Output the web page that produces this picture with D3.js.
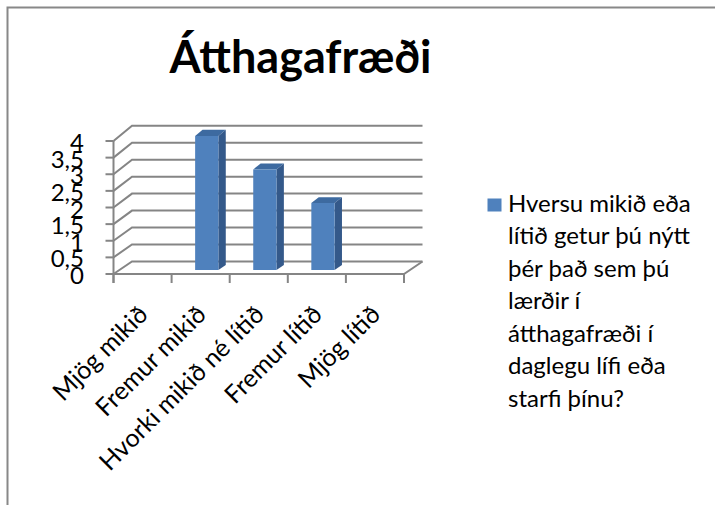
<!DOCTYPE html>
<html>
<head>
<meta charset="utf-8">
<script src="https://cdn.jsdelivr.net/npm/d3@7/dist/d3.min.js"></script>
<style>
  body { margin: 0; background: #fff; }
  text { font-family: Lato, "Open Sans", sans-serif; fill: #000; }
</style>
</head>
<body>
<div class="chart"></div>
<script>
// chart data
var title = "Átthagafræði";
var categories = ["Mjög mikið", "Fremur mikið", "Hvorki mikið né lítið", "Fremur lítið", "Mjög lítið"];
var values = [0, 4, 3, 2, 0];
var yTicks = [0, 0.5, 1, 1.5, 2, 2.5, 3, 3.5, 4];
var legendLines = ["Hversu mikið eða", "lítið getur þú nýtt", "þér það sem þú", "lærðir í", "átthagafræði í", "daglegu lífi eða", "starfi þínu?"];

var svgWidth = 715;
var svgHeight = 505;

// 3d box: front plane and back plane
var depthX = 18.5;
var barDepth = [0.33, 0.73];

var svg = d3.select(".chart")
  .append("svg")
  .attr("width", svgWidth)
  .attr("height", svgHeight);

svg.append("rect")
  .attr("x", 7.5)
  .attr("y", 7.5)
  .attr("width", 730)
  .attr("height", 520)
  .attr("fill", "#fff")
  .attr("stroke", "#888")
  .attr("stroke-width", 2);

// scales
var xScale = d3.scaleBand()
  .domain(categories)
  .range([113.5, 404]);

var yFront = d3.scaleLinear()
  .domain([0, 4])
  .range([274, 141]);

var yBack = d3.scaleLinear()
  .domain([0, 4])
  .range([261.5, 125.7]);

var fmt = d3.formatLocale({decimal: ",", thousands: ".", grouping: [3], currency: ["", ""]}).format("~g");

// project a point given front x, value and depth (0 = front, 1 = back)
function proj(x, v, f) {
  var yf = yFront(v), yb = yBack(v);
  return [x + f * depthX, yf + f * (yb - yf)];
}

var grid = svg.append("g")
  .attr("fill", "none")
  .attr("stroke", "#858585")
  .attr("stroke-width", 2);

// side wall + back wall gridlines
grid.selectAll("path.gl")
  .data(yTicks)
  .enter()
  .append("path")
  .attr("class", "gl")
  .attr("d", function(v) {
    var a = proj(xScale.range()[0], v, 0);
    var b = proj(xScale.range()[0], v, 1);
    var c = proj(xScale.range()[1], v, 1);
    return "M" + a + "L" + b + "L" + c;
  });

// floor front edge and right edge
var x0 = xScale.range()[0], x1 = xScale.range()[1];
grid.append("path")
  .attr("d", "M" + proj(x0, 0, 0) + "L" + proj(x1, 0, 0) + "L" + proj(x1, 0, 1));

// vertical axis line and ticks
grid.append("line")
  .attr("x1", x0).attr("x2", x0)
  .attr("y1", yFront(4)).attr("y2", yFront(0) + 9);

grid.selectAll("line.yt")
  .data(yTicks)
  .enter()
  .append("line")
  .attr("class", "yt")
  .attr("x1", x0 - 8).attr("x2", x0)
  .attr("y1", d => yFront(d)).attr("y2", d => yFront(d));

// category ticks
var boundaries = categories.map(d => xScale(d)).concat([x1]);
grid.selectAll("line.xt")
  .data(boundaries)
  .enter()
  .append("line")
  .attr("class", "xt")
  .attr("x1", d => d).attr("x2", d => d)
  .attr("y1", yFront(0)).attr("y2", yFront(0) + 9);

// y labels
svg.selectAll("text.yl")
  .data(yTicks)
  .enter()
  .append("text")
  .attr("class", "yl")
  .attr("x", 84)
  .attr("y", d => yFront(d))
  .attr("dy", "0.42em")
  .attr("text-anchor", "end")
  .style("font-size", "24px")
  .text(d => fmt(d));

// bars
var bw = xScale.bandwidth();
var bars = svg.selectAll("g.bar")
  .data(categories.map((c, i) => ({cat: c, v: values[i]})).filter(d => d.v > 0))
  .enter()
  .append("g")
  .attr("class", "bar");

function poly(pts) { return "M" + pts.join("L") + "Z"; }

bars.append("path")
  .attr("fill", "#3d6aa0")
  .attr("d", function(d) {
    var a = xScale(d.cat) + bw * 0.3, b = a + bw * 0.4;
    return poly([proj(a, d.v, barDepth[0]), proj(b, d.v, barDepth[0]), proj(b, d.v, barDepth[1]), proj(a, d.v, barDepth[1])]);
  });

bars.append("path")
  .attr("fill", "#34598a")
  .attr("d", function(d) {
    var b = xScale(d.cat) + bw * 0.7;
    return poly([proj(b, 0, barDepth[0]), proj(b, 0, barDepth[1]), proj(b, d.v, barDepth[1]), proj(b, d.v, barDepth[0])]);
  });

bars.append("path")
  .attr("fill", "#4f81bd")
  .attr("d", function(d) {
    var a = xScale(d.cat) + bw * 0.3, b = a + bw * 0.4;
    return poly([proj(a, 0, barDepth[0]), proj(b, 0, barDepth[0]), proj(b, d.v, barDepth[0]), proj(a, d.v, barDepth[0])]);
  });

// category labels, rotated
svg.selectAll("text.xl")
  .data(categories)
  .enter()
  .append("text")
  .attr("class", "xl")
  .attr("text-anchor", "end")
  .attr("transform", d => `translate(${xScale(d) + bw / 2 + 7}, 316) rotate(-45)`)
  .style("font-size", "25px")
  .text(d => d);

// title
svg.append("text")
  .attr("x", 300.5)
  .attr("y", 73.3)
  .attr("text-anchor", "middle")
  .style("font-size", "45px")
  .style("font-weight", "bold")
  .text(title);

// legend
svg.append("rect")
  .attr("x", 487.5)
  .attr("y", 198.5)
  .attr("width", 14)
  .attr("height", 13)
  .attr("fill", "#4f81bd");

svg.append("text")
  .style("font-size", "24px")
  .selectAll("tspan")
  .data(legendLines)
  .enter()
  .append("tspan")
  .attr("x", 508)
  .attr("y", (d, i) => 211.7 + i * 32.5)
  .text(d => d);
</script>
</body>
</html>
